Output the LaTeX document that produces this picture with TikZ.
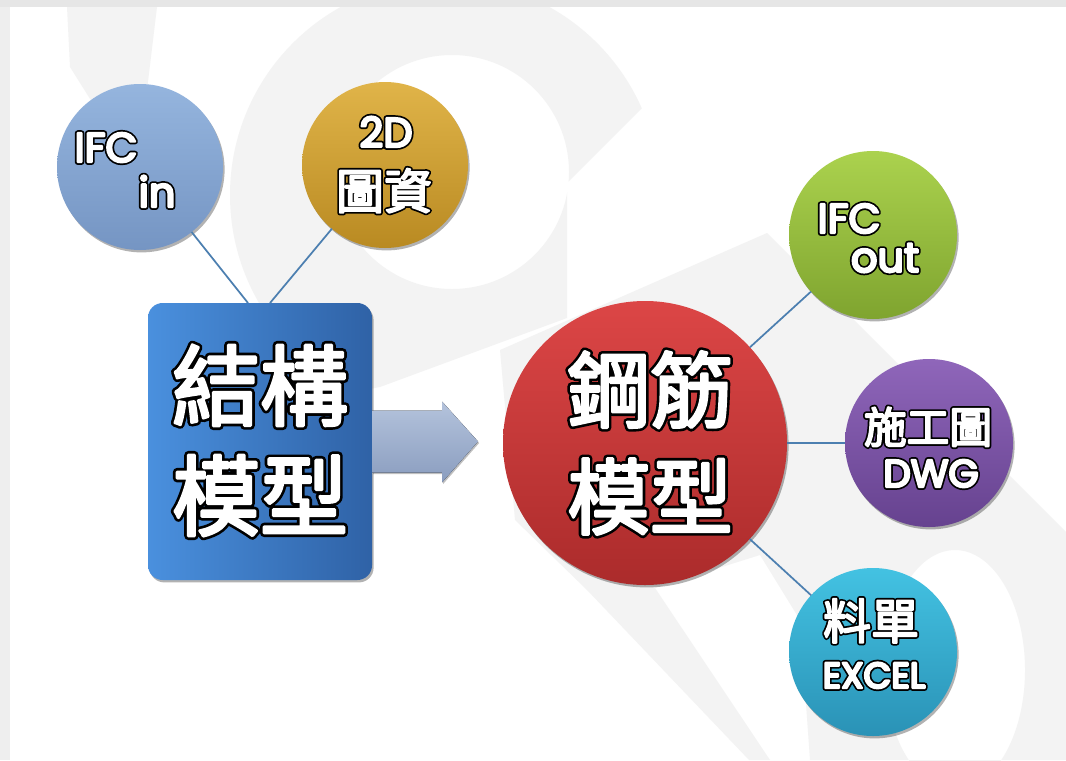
\documentclass[tikz,border=0pt]{standalone}
\usepackage{fontspec}
\usetikzlibrary{shadows,calc}
\newfontfamily\cjk{Noto Sans CJK TC}
\newfontfamily\latn{Poppins}
\definecolor{wm}{HTML}{F3F3F3}
\definecolor{topstrip}{HTML}{E6E6E6}
\definecolor{leftstrip}{HTML}{EEEEEE}
\definecolor{conncol}{HTML}{4C7FB0}
\definecolor{ifcT}{HTML}{95B5DE}\definecolor{ifcB}{HTML}{7595C3}
\definecolor{twoT}{HTML}{E0B449}\definecolor{twoB}{HTML}{B98A22}
\definecolor{boxL}{HTML}{4A90DE}\definecolor{boxR}{HTML}{2F62A6}
\definecolor{redT}{HTML}{DC4646}\definecolor{redB}{HTML}{AB2B2B}
\definecolor{grnT}{HTML}{ABD24E}\definecolor{grnB}{HTML}{7FA42F}
\definecolor{purT}{HTML}{8F66BA}\definecolor{purB}{HTML}{66428F}
\definecolor{cyaT}{HTML}{43C2E2}\definecolor{cyaB}{HTML}{2A92B6}
\definecolor{arrT}{HTML}{B4C3DC}\definecolor{arrB}{HTML}{8A9DBF}
% #1 size, #2 black outline stroke width, #3 white emboldening stroke width, #4 text
\newcommand{\outl}[4]{{\fontsize{#1}{#1}\selectfont
  \rlap{\color{black}\special{pdf:literal direct q 2 Tr #2 w 1 j 1 J 0 0 0 RG 0 0 0 rg}#4\special{pdf:literal direct Q}}%
  {\color{white}\special{pdf:literal direct q 2 Tr #3 w 1 j 1 J 1 1 1 RG 1 1 1 rg}#4\special{pdf:literal direct Q}}}}
\begin{document}
\begin{tikzpicture}[x=0.75pt,y=-0.75pt,
  bubble/.style={circle,inner sep=0pt,outer sep=0pt,minimum size=#1,
    drop shadow={shadow xshift=1.2pt,shadow yshift=-1.8pt,opacity=0.3,fill=black}},
  conn/.style={draw=conncol,line width=1.3pt},
  lbl/.style={inner sep=0pt,outer sep=0pt,anchor=base,font=\cjk},
  lat/.style={inner sep=0pt,outer sep=0pt,anchor=base,font=\latn}]
\useasboundingbox (0,0) rectangle (1066,760);
% background and watermark
\fill[white] (0,0) rectangle (1066,760);
\fill[wm] (67,7) -- (157,7) -- (147,90) -- (145,200) -- (97,110) -- (70,67) -- cycle;
\begin{scope}
\clip (0,0) -- (750,0) -- (567,183) -- (567,318) -- (380,387) -- (0,460) -- cycle;
\fill[wm,even odd rule] (445,195) circle[radius=161.25pt] (452,172) circle[radius=87.75pt];
\end{scope}
\fill[wm,even odd rule] (500,350) -- (767,233) -- (1066,532) -- (1066,760) -- (749,760) -- (587,590) -- (515,520) -- cycle
  (655,588) -- (760,555) -- (800,620) -- (810,760) -- (770,760) -- cycle
  (955,670) ellipse[x radius=52.5pt,y radius=90pt];
\fill[topstrip] (0,0) rectangle (1066,7);
\fill[leftstrip] (0,7) rectangle (10,760);
% nodes
\node[bubble=124.5pt,top color=ifcT,bottom color=ifcB] (ifcin) at (140,167) {};
\node[bubble=124.5pt,top color=twoT,bottom color=twoB] (twod) at (385,165) {};
\node[rectangle,rounded corners=11pt,inner sep=0pt,outer sep=0pt,minimum width=168pt,minimum height=207.75pt,
  left color=boxL,right color=boxR,
  drop shadow={shadow xshift=1.2pt,shadow yshift=-1.8pt,opacity=0.3,fill=black}] (box) at (260,441.5) {};
\node[bubble=213pt,top color=redT,bottom color=redB] (rebar) at (645,443) {};
\node[bubble=126pt,top color=grnT,bottom color=grnB] (ifcout) at (873,235) {};
\node[bubble=126pt,top color=purT,bottom color=purB] (dwg) at (929,443) {};
\node[bubble=126pt,top color=cyaT,bottom color=cyaB] (excel) at (873,652) {};
% arrow
\fill[top color=arrT,bottom color=arrB,
  drop shadow={shadow xshift=0.8pt,shadow yshift=-1.2pt,opacity=0.25,fill=black}]
  ($(box.east)+(0,-31)$) -- ++(70,0) -- ++(0,-9) -- ($(box.east)+(106,0)$)
  -- ($(box.east)+(70,41)$) -- ++(0,-10) -- ($(box.east)+(0,31)$) -- cycle;
% connectors
\coordinate (a1) at ($(box.north west)+(100,0)$);
\coordinate (a2) at ($(box.north west)+(122,0)$);
\draw[conn] (ifcin) -- (a1);
\draw[conn] (twod) -- (a2);
\draw[conn] (rebar) -- (ifcout);
\draw[conn] (rebar) -- (dwg);
\draw[conn] (rebar) -- (excel);
% labels
\node[lat] (t1) at (106,162) {\outl{31pt}{4.4}{1.8}{IFC}};
\node[lat] (t2) at (157,207) {\outl{31pt}{4.4}{1.8}{in}};
\node[lat] (t3) at (386,147) {\outl{31pt}{4.4}{1.8}{2D}};
\node[lbl] (t4) at (384,209) {\outl{36pt}{4.0}{1.4}{圖資}};
\node[lbl] (t5) at (260,419) {\outl{66pt}{6.2}{2.2}{結構}};
\node[lbl] (t6) at (260,529) {\outl{66pt}{6.2}{2.2}{模型}};
\node[lbl] (t7) at (650,421) {\outl{62pt}{6.0}{2.1}{鋼筋}};
\node[lbl] (t8) at (650,528) {\outl{62pt}{6.0}{2.1}{模型}};
\node[lat] (t9) at (849,233) {\outl{31pt}{4.4}{1.8}{IFC}};
\node[lat] (t10) at (885,272) {\outl{31pt}{4.4}{1.8}{out}};
\node[lbl] (t11) at (928,443) {\outl{32pt}{4.0}{1.4}{施工圖}};
\node[lat] (t12) at (931,487) {\outl{29pt}{4.4}{1.8}{DWG}};
\node[lbl] (t13) at (871,639) {\outl{36pt}{4.0}{1.4}{料單}};
\node[lat] (t14) at (874,688) {\outl{27pt}{4.4}{1.8}{EXCEL}};
\end{tikzpicture}
\end{document}
